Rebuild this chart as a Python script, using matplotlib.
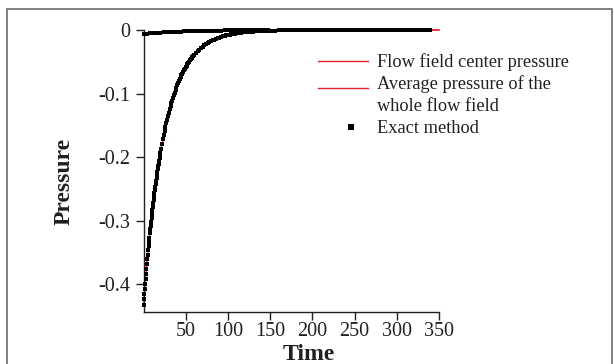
import numpy as np
import matplotlib
matplotlib.use("Agg")
import matplotlib.pyplot as plt
from matplotlib.lines import Line2D
from matplotlib.patches import Rectangle

plt.rcParams['font.family'] = ['Liberation Serif', 'DejaVu Serif']
plt.rcParams['axes.unicode_minus'] = False

# ---------------- data ----------------
# centre pressure (large transient) -- exact-method sample times and values
center_t = (
    [0, 0.5, 1, 1.5, 2, 2.5, 3, 3.5, 4, 4.5, 5, 5.5, 6, 6.5, 7, 7.5, 8, 8.5, 9, 9.5,
     10, 10.5, 11, 11.5, 12, 12.5, 13, 13.5, 14, 14.5, 15, 15.5, 16, 16.5, 17, 17.5,
     18, 18.5, 19, 19.5, 20]
    + list(range(21, 61))
    + list(range(62, 141, 2))
    + list(range(144, 341, 4))
)
center_p = (
    [-0.4320, -0.4234, -0.4150, -0.4068, -0.3988, -0.3909, -0.3831, -0.3755, -0.3681,
     -0.3608, -0.3537, -0.3467, -0.3398, -0.3331, -0.3265, -0.3200, -0.3137, -0.3075,
     -0.3014, -0.2954, -0.2896, -0.2838, -0.2782, -0.2727, -0.2673, -0.2620, -0.2568,
     -0.2518, -0.2468, -0.2419, -0.2371, -0.2324, -0.2278, -0.2233, -0.2189, -0.2145,
     -0.2103, -0.2061, -0.2020, -0.1980, -0.1941]
    + [-0.1865, -0.1792, -0.1722, -0.1654, -0.1589, -0.1527, -0.1467, -0.1410, -0.1354,
       -0.1301, -0.1250, -0.1201, -0.1154, -0.1109, -0.1065, -0.1024, -0.0983, -0.0945,
       -0.0908, -0.0872, -0.0838, -0.0805, -0.0774, -0.0743, -0.0714, -0.0686, -0.0659,
       -0.0633, -0.0609, -0.0585, -0.0562, -0.0540, -0.0519, -0.0498, -0.0479, -0.0460,
       -0.0442, -0.0425, -0.0408, -0.0392]
    + [-0.0362, -0.0334, -0.0308, -0.0285, -0.0263, -0.0242, -0.0224, -0.0207, -0.0191,
       -0.0176, -0.0163, -0.0150, -0.0138, -0.0128, -0.0118, -0.0109, -0.0100, -0.0093,
       -0.0086, -0.0079, -0.0073, -0.0067, -0.0062, -0.0057, -0.0053, -0.0049, -0.0045,
       -0.0042, -0.0038, -0.0035, -0.0033, -0.0030, -0.0028, -0.0026, -0.0024, -0.0022,
       -0.0020, -0.0019, -0.0017, -0.0016]
    + [-0.0013, -0.0011, -0.0009, -0.0008, -0.0006, -0.0005, -0.0005, -0.0004, -0.0003,
       -0.0003, -0.0002, -0.0002, -0.0002, -0.0001, -0.0001, -0.0001, -0.0001, -0.0001,
       0, 0, 0, 0, 0, 0, 0, 0, 0, 0, 0, 0, 0, 0, 0, 0, 0, 0, 0, 0, 0, 0, 0, 0, 0, 0, 0,
       0, 0, 0, 0, 0]
)

# average pressure of the whole flow field (small transient)
avg_t = list(range(0, 149, 4))
avg_p = [-0.0063, -0.0058, -0.0053, -0.0048, -0.0044, -0.0040, -0.0037, -0.0034,
         -0.0031, -0.0028, -0.0026, -0.0024, -0.0022, -0.0020, -0.0018, -0.0017,
         -0.0015, -0.0014, -0.0013, -0.0012, -0.0011, -0.0010, -0.0009, -0.0008,
         -0.0007, -0.0006, -0.0006, -0.0005, -0.0004, -0.0004, -0.0003, -0.0003,
         -0.0002, -0.0002, -0.0001, -0.0001, 0, 0]

t_end = 350
x_ticks = [50, 100, 150, 200, 250, 300, 350]
y_ticks = [0, -0.1, -0.2, -0.3, -0.4]
y_tick_labels = ["0", "-0.1", "-0.2", "-0.3", "-0.4"]
legend_labels = ["Flow field center pressure",
                 "Average pressure of the\nwhole flow field",
                 "Exact method"]

# ---------------- figure ----------------
W, H = 614, 364
fig = plt.figure(figsize=(W / 100, H / 100), dpi=100)

def fx(px):
    return px / W

def fy(py):
    return 1 - py / H

# outer frame
fig.patches.append(Rectangle((fx(6.7), -0.1), fx(612.3) - fx(6.7), fy(9) + 0.1,
                             transform=fig.transFigure, fill=False,
                             edgecolor="#5f5f5f", linewidth=1.1))

ax_l, ax_r, ax_t, ax_b = 143.5, 438.9, 30.0, 312.3
ax = fig.add_axes([fx(ax_l), fy(ax_b), fx(ax_r) - fx(ax_l), (ax_b - ax_t) / H])

red = "#e3232b"
ct = np.append(center_t, t_end)
cp = np.append(center_p, 0.0)
at = np.append(avg_t, t_end)
ap = np.append(avg_p, 0.0)
ax.plot(ct, cp, color=red, lw=1.0, zorder=2, clip_on=False)
ax.plot(at, ap, color=red, lw=1.0, zorder=2, clip_on=False)
ax.plot(center_t, center_p, ls="none", marker="s", ms=2.9, mew=0,
        color="black", zorder=3, clip_on=False)
ax.plot(avg_t, avg_p, ls="none", marker="s", ms=2.9, mew=0,
        color="black", zorder=3, clip_on=False)

ax.set_xlim(0, 350)
ax.set_ylim(-0.444, 0)
ax.set_xticks(x_ticks)
ax.set_yticks(y_ticks)
ax.set_yticklabels(y_tick_labels)

for s in ["top", "right"]:
    ax.spines[s].set_visible(False)
for s in ["left", "bottom"]:
    ax.spines[s].set_linewidth(1.0)
    ax.spines[s].set_color("#231f20")
ax.tick_params(axis="both", direction="out", length=5.5, width=1.0,
               color="#231f20", labelcolor="#231f20", labelsize=14.5)
ax.tick_params(axis="y", pad=4.0)
ax.tick_params(axis="x", pad=1.5)

ax.set_xlabel("Time", fontsize=17, fontweight="bold", color="#231f20",
              va="baseline", ha="center")
ax.xaxis.set_label_coords((309 - ax_l) / (ax_r - ax_l), (ax_b - 360) / (ax_b - ax_t))
ax.set_ylabel("Pressure", fontsize=17, fontweight="bold", color="#231f20",
              va="center", ha="center")
ax.yaxis.set_label_coords((64 - ax_l) / (ax_r - ax_l), (ax_b - 181.5) / (ax_b - ax_t))

# manual legend
fig.add_artist(Line2D([fx(318), fx(368)], [fy(61), fy(61)], color=red, lw=1.0,
                      transform=fig.transFigure))
fig.add_artist(Line2D([fx(318), fx(368)], [fy(87.7), fy(87.7)], color=red, lw=1.0,
                      transform=fig.transFigure))
fig.add_artist(Line2D([fx(350.5)], [fy(127.3)], ls="none", marker="s", ms=5,
                      mew=0, color="black", transform=fig.transFigure))
tkw = dict(fontsize=13.2, color="#231f20", ha="left", va="baseline")
fig.text(fx(377), fy(66.7), legend_labels[0], **tkw)
l2a, l2b = legend_labels[1].split("\n")
fig.text(fx(377), fy(89.3), l2a, **tkw)
fig.text(fx(377), fy(111), l2b, **tkw)
fig.text(fx(377), fy(133.3), legend_labels[2], **tkw)

fig.savefig("out.png", dpi=100)
